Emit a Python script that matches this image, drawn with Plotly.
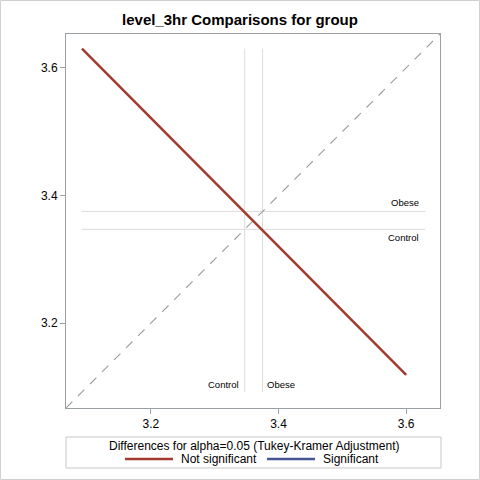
import plotly.graph_objects as go

groups = ["Control", "Obese"]
means = [3.347, 3.375]
# diffogram segment for Control vs Obese (x = Control axis, y = Obese axis)
seg_x = [3.092, 3.600]
seg_y = [3.630, 3.119]
ref_lo, ref_hi = 3.092, 3.630
axis_range = [3.067, 3.653]
tickvals = [3.2, 3.4, 3.6]
ticktext = ["3.2", "3.4", "3.6"]
legend_title = "Differences for alpha=0.05 (Tukey-Kramer Adjustment)"
legend_names = ["Not significant", "Significant"]

RED = "#A23A2E"
BLUE = "#445694"
REFC = "#DCDCDC"
AXC = "#9AA0A4"
FONT = "Liberation Sans, Arial, sans-serif"

fig = go.Figure()

# reference lines
for g, m in zip(groups, means):
    fig.add_trace(go.Scatter(x=[ref_lo, ref_hi], y=[m, m], mode="lines",
                             line=dict(color=REFC, width=1), showlegend=False, hoverinfo="skip"))
    fig.add_trace(go.Scatter(x=[m, m], y=[ref_lo, ref_hi], mode="lines",
                             line=dict(color=REFC, width=1), showlegend=False, hoverinfo="skip"))

# diagonal
fig.add_trace(go.Scatter(x=axis_range, y=axis_range, mode="lines",
                         line=dict(color="#A0A0A0", width=1.2, dash="9px,8px"),
                         showlegend=False, hoverinfo="skip"))

fig.add_trace(go.Scatter(x=seg_x, y=seg_y, mode="lines",
                         line=dict(color=RED, width=2.5), name=legend_names[0], showlegend=False))

lab_font = dict(family=FONT, size=9.5, color="#000")
# horizontal labels (Obese upper, Control lower)
fig.add_annotation(x=ref_hi, y=means[1], text="Obese", showarrow=False, xanchor="right",
                   yanchor="bottom", xshift=-4, yshift=1, font=lab_font)
fig.add_annotation(x=ref_hi, y=means[0], text="Control", showarrow=False, xanchor="right",
                   yanchor="top", xshift=-4, yshift=-1, font=lab_font)
# vertical labels
fig.add_annotation(x=means[0], y=ref_lo, text="Control", showarrow=False, xanchor="right",
                   yanchor="bottom", xshift=-4, yshift=0, font=lab_font)
fig.add_annotation(x=means[1], y=ref_lo, text="Obese", showarrow=False, xanchor="left",
                   yanchor="bottom", xshift=2, yshift=0, font=lab_font)

# legend frame and outer border
fig.add_shape(type="rect", xref="paper", yref="paper", x0=0, x1=1.0027, y0=-0.1604, y1=-0.0775,
              line=dict(color="#C8C8C8", width=1), fillcolor="rgba(0,0,0,0)")
fig.add_shape(type="rect", xref="paper", yref="paper", x0=-0.1751, x1=1.1056, y0=-0.1912, y1=1.0896,
              line=dict(color="#D0D0D0", width=1), fillcolor="rgba(0,0,0,0)")

# manual legend
leg_font = dict(family=FONT, size=12, color="#000")
fig.add_annotation(xref="paper", yref="paper", x=0.5027, y=-0.1003, text=legend_title,
                   showarrow=False, xanchor="center", yanchor="middle", font=leg_font)
item_y = -0.1364
for name, col, (sx0, sx1) in zip(legend_names, [RED, BLUE], [(0.1578, 0.2861), (0.5374, 0.6658)]):
    fig.add_shape(type="line", xref="paper", yref="paper", x0=sx0, x1=sx1, y0=item_y, y1=item_y,
                  line=dict(color=col, width=2.5))
    fig.add_annotation(xref="paper", yref="paper", x=sx1 + 0.016, y=item_y, text=name,
                       showarrow=False, xanchor="left", yanchor="middle", font=leg_font)

axis_common = dict(range=axis_range, showgrid=False, zeroline=False, showline=True, mirror=True,
                   linecolor=AXC, linewidth=1, ticks="outside", ticklen=5, tickcolor=AXC,
                   tickvals=tickvals, ticktext=ticktext,
                   tickfont=dict(family=FONT, size=12, color="#000"))

fig.update_layout(
    width=480, height=480,
    margin=dict(l=66, r=40, t=34, b=72, autoexpand=False),
    paper_bgcolor="white", plot_bgcolor="white",
    title=dict(text="<b>level_3hr Comparisons for group</b>", x=0.5, xanchor="center",
               y=0.958, yanchor="middle", font=dict(family=FONT, size=15, color="#000")),
    xaxis=axis_common, yaxis=axis_common,
    showlegend=False,
)

fig.write_html("out.html")
